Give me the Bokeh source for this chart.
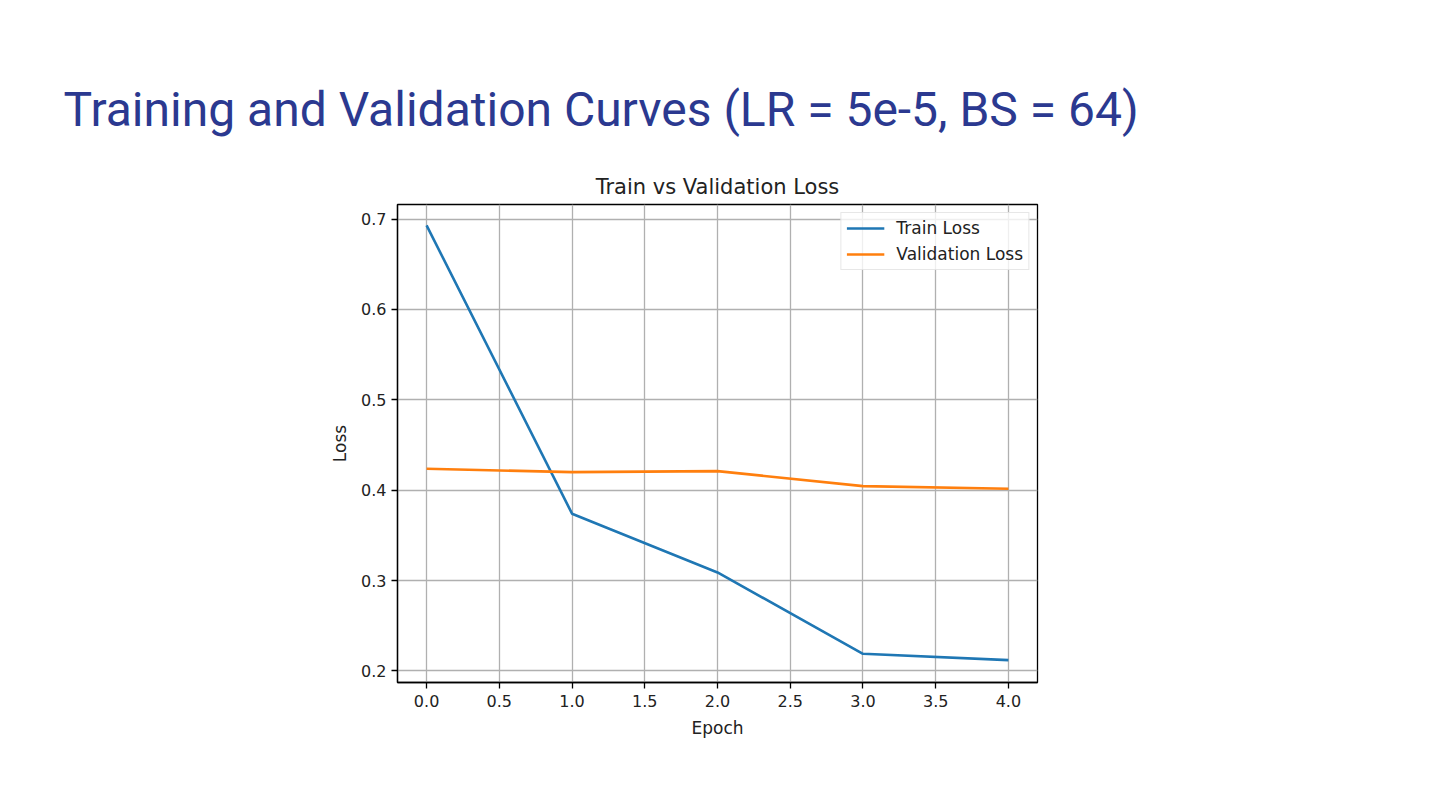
from bokeh.plotting import figure
from bokeh.models import Title, Legend, LegendItem, FixedTicker, Range1d, CustomJSTickFormatter
from bokeh.embed import file_html
from bokeh.resources import INLINE

# Loss per epoch
epochs = [0, 1, 2, 3, 4]
train_loss = [0.693, 0.374, 0.309, 0.219, 0.212]
val_loss = [0.4237, 0.4200, 0.4211, 0.4045, 0.4015]

x_ticks = [0.0, 0.5, 1.0, 1.5, 2.0, 2.5, 3.0, 3.5, 4.0]
y_ticks = [0.2, 0.3, 0.4, 0.5, 0.6, 0.7]

page_title = "Training and Validation Curves (LR = 5e-5, BS = 64)"
chart_title = "Train vs Validation Loss"

W, H = 1440, 810
FL, FR, FT, FB = 397, 1037, 204, 682  # plot frame edges in pixels

p = figure(
    width=W, height=H,
    output_backend="svg", toolbar_location=None,
    x_range=Range1d(-0.2, 4.2), y_range=Range1d(0.1872, 0.7161),
    min_border_left=FL, min_border_right=W - FR,
    min_border_top=FT, min_border_bottom=H - FB,
    background_fill_color="white", border_fill_color="white",
)
p.outline_line_color = "black"
p.outline_line_width = 1.3

tick_font = "DejaVu Sans"
fmt = CustomJSTickFormatter(code="return tick.toFixed(1);")
for ax, ticks in ((p.xaxis, x_ticks), (p.yaxis, y_ticks)):
    ax.ticker = FixedTicker(ticks=ticks)
    ax.formatter = fmt
    ax.major_tick_out = 6
    ax.major_tick_in = 0
    ax.minor_tick_out = 0
    ax.minor_tick_in = 0
    ax.axis_line_color = "black"
    ax.axis_line_width = 1.3
    ax.major_tick_line_color = "black"
    ax.major_tick_line_width = 1.3
    ax.major_label_text_font = tick_font
    ax.major_label_text_font_size = "16px"
    ax.major_label_text_color = "#222222"
    ax.axis_label_text_font = tick_font
    ax.axis_label_text_font_size = "17px"
    ax.axis_label_text_font_style = "normal"
    ax.axis_label_text_color = "#222222"

p.xaxis.axis_label = "Epoch"
p.yaxis.axis_label = "Loss"
p.xaxis.major_label_standoff = 6
p.yaxis.major_label_standoff = 5
p.xaxis.axis_label_standoff = 8
p.yaxis.axis_label_standoff = 8

p.xgrid.ticker = FixedTicker(ticks=x_ticks)
p.ygrid.ticker = FixedTicker(ticks=y_ticks)
for g in (p.xgrid, p.ygrid):
    g.grid_line_color = "#b0b0b0"
    g.grid_line_width = 1.3

r_train = p.line(epochs, train_loss, line_color="#1f77b4", line_width=2.6)
r_val = p.line(epochs, val_loss, line_color="#ff7f0e", line_width=2.6)

legend = Legend(
    items=[LegendItem(label="Train Loss", renderers=[r_train]),
           LegendItem(label="Validation Loss", renderers=[r_val])],
    location="top_right",
    margin=8,
    padding=5,
    spacing=6,
    glyph_width=38,
    glyph_height=20,
    label_height=20,
    label_standoff=12,
    label_text_font=tick_font,
    label_text_font_size="17px",
    label_text_color="#222222",
    border_line_color="#d0d0d0",
    border_line_width=1.3,
    background_fill_alpha=0.8,
)
p.add_layout(legend)

# Chart title, right above the frame
sub = Title(
    text=chart_title, align="center", standoff=11,
    text_font=tick_font, text_font_size="21px", text_font_style="normal",
    text_color="#222222",
)
p.add_layout(sub, "above")

# Page heading on the outer title slot, shifted to the left margin
p.title.text = page_title
p.title.align = "left"
p.title.offset = 63 - FL
p.title.standoff = 60
p.title.text_font = "Roboto"
p.title.text_font_size = "48px"
p.title.text_font_style = "normal"
p.title.text_color = "#2b3990"

open("out.html", "w").write(file_html(p, INLINE))
